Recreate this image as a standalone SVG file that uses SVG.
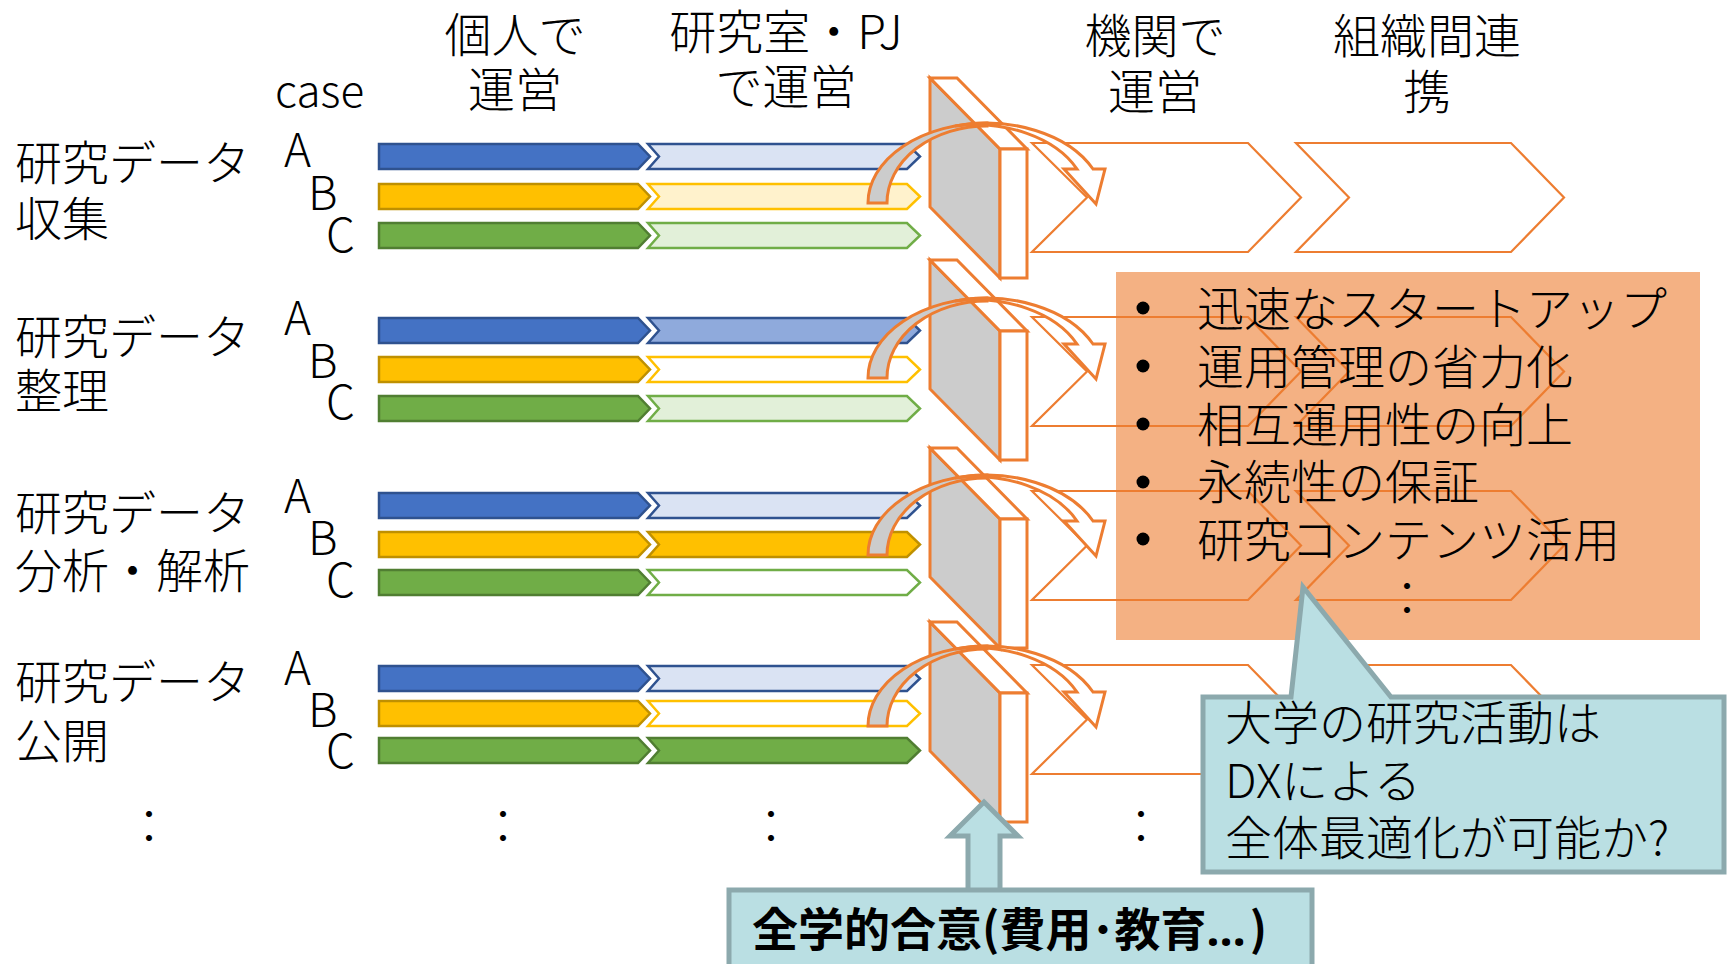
<svg xmlns="http://www.w3.org/2000/svg" xmlns:xlink="http://www.w3.org/1999/xlink" width="1727" height="964" viewBox="0 0 1727 964">
<style>
text{font-family:"Noto Sans CJK JP","Noto Sans",sans-serif;font-size:47px;fill:#000;font-weight:300}
.mid{text-anchor:middle}
.abc{font-size:46px}
.case{font-size:44px}
.bold{font-weight:700;font-size:46px}
.ell{font-family:"Noto Sans",sans-serif}
.bar{stroke-width:2.5;stroke-linejoin:miter}
.bD{fill:#4472C4;stroke:#2F528F}
.bL{fill:#DAE3F3;stroke:#2F528F}
.bM{fill:#8FAADC;stroke:#2F528F}
.yD{fill:#FFC000;stroke:#BF9000}
.yL{fill:#FFF2CC;stroke:#FFC000}
.yW{fill:#FFFFFF;stroke:#FFC000}
.gD{fill:#70AD47;stroke:#507E32}
.gL{fill:#E2F0D9;stroke:#70AD47}
.gW{fill:#FFFFFF;stroke:#70AD47}
.or{stroke:#ED7D31;stroke-width:3;stroke-linejoin:miter}
.grey{fill:#CCCCCC}
.white{fill:#FFFFFF}
.chev{fill:none;stroke:#ED7D31;stroke-width:2.2}
.call{fill:#BADFE3;stroke:#8CA9AD;stroke-width:5;stroke-linejoin:miter}
</style>
<defs>
<path id="c1" d="M0,0 H259 L271,12.5 L259,25 H0 Z"/>
<path id="c2" d="M0,0 H259 L272,12.5 L259,25 H0 L11,12.5 Z"/>
<g id="panel">
<polygon class="or grey" points="930,0 1000,71 1000,200 930,129"/>
<polygon class="or white" points="930,0 957,0 1027,71 1000,71"/>
<rect class="or white" x="1000" y="71" width="27" height="129"/>
</g>
<g id="arrow">
<path class="or grey" d="M868,0 A119,80 0 0 1 987,-80 L987,-77 A100,77 0 0 0 887,0 Z"/>
<path class="or white" d="M955,-77 A118,80 0 0 1 1093,-34 L1105,-34 L1096,1 L1064,-34 L1077,-34 A112,76 0 0 0 955,-77 Z"/>
</g>
<g id="bigchev">
<path class="chev" d="M1032,0 H1248 L1301,54.5 L1248,109 H1032 L1087,54.5 Z"/>
<path class="chev" d="M1296,0 H1511 L1564,54.5 L1511,109 H1296 L1349,54.5 Z"/>
</g>
</defs>

<g id="headers">
<text class="mid" x="515" y="52">個人で</text>
<text class="mid" x="515" y="107">運営</text>
<text class="mid" x="786" y="49">研究室・PJ</text>
<text class="mid" x="786" y="104">で運営</text>
<text class="mid" x="1155" y="53">機関で</text>
<text class="mid" x="1155" y="109">運営</text>
<text class="mid" x="1427" y="53">組織間連</text>
<text class="mid" x="1427" y="109">携</text>
<text class="case" x="275" y="107">case</text>
</g>

<g id="row-labels">
<text x="15" y="180">研究データ</text>
<text x="15" y="236">収集</text>
<text x="15" y="354">研究データ</text>
<text x="15" y="408">整理</text>
<text x="15" y="530">研究データ</text>
<text x="15" y="588">分析・解析</text>
<text x="15" y="699">研究データ</text>
<text x="15" y="758">公開</text>
</g>

<g id="case-letters">
<text class="abc" x="284" y="167">A</text><text class="abc" x="308" y="210">B</text><text class="abc" x="326" y="252">C</text>
<text class="abc" x="284" y="335">A</text><text class="abc" x="308" y="378">B</text><text class="abc" x="326" y="419">C</text>
<text class="abc" x="284" y="513">A</text><text class="abc" x="308" y="555">B</text><text class="abc" x="326" y="597">C</text>
<text class="abc" x="284" y="685">A</text><text class="abc" x="308" y="727">B</text><text class="abc" x="326" y="768">C</text>
</g>

<g id="orange-box">
<rect x="1116" y="272" width="584" height="368" fill="#F4B183"/>
</g>

<g id="big-chevrons">
<use xlink:href="#bigchev" href="#bigchev" transform="translate(0,143)"/>
<use xlink:href="#bigchev" href="#bigchev" transform="translate(0,317)"/>
<use xlink:href="#bigchev" href="#bigchev" transform="translate(0,491)"/>
<use xlink:href="#bigchev" href="#bigchev" transform="translate(0,665)"/>
</g>

<g id="row1">
<use class="bar bD" href="#c1" transform="translate(379,144)"/>
<use class="bar yD" href="#c1" transform="translate(379,184)"/>
<use class="bar gD" href="#c1" transform="translate(379,223)"/>
<use class="bar bL" href="#c2" transform="translate(648,144)"/>
<use class="bar yL" href="#c2" transform="translate(648,184)"/>
<use class="bar gL" href="#c2" transform="translate(648,223)"/>
<use href="#panel" transform="translate(0,78)"/>
<use href="#arrow" transform="translate(0,203)"/>
</g>

<g id="row2">
<use class="bar bD" href="#c1" transform="translate(379,318)"/>
<use class="bar yD" href="#c1" transform="translate(379,357)"/>
<use class="bar gD" href="#c1" transform="translate(379,396)"/>
<use class="bar bM" href="#c2" transform="translate(648,318)"/>
<use class="bar yW" href="#c2" transform="translate(648,357)"/>
<use class="bar gL" href="#c2" transform="translate(648,396)"/>
<use href="#panel" transform="translate(0,260)"/>
<use href="#arrow" transform="translate(0,378)"/>
</g>

<g id="row3">
<use class="bar bD" href="#c1" transform="translate(379,493)"/>
<use class="bar yD" href="#c1" transform="translate(379,532)"/>
<use class="bar gD" href="#c1" transform="translate(379,570)"/>
<use class="bar bL" href="#c2" transform="translate(648,493)"/>
<use class="bar yD" href="#c2" transform="translate(648,532)"/>
<use class="bar gW" href="#c2" transform="translate(648,570)"/>
<use href="#panel" transform="translate(0,448)"/>
<use href="#arrow" transform="translate(0,555)"/>
</g>

<g id="row4">
<use class="bar bD" href="#c1" transform="translate(379,666)"/>
<use class="bar yD" href="#c1" transform="translate(379,701)"/>
<use class="bar gD" href="#c1" transform="translate(379,738)"/>
<use class="bar bL" href="#c2" transform="translate(648,666)"/>
<use class="bar yW" href="#c2" transform="translate(648,701)"/>
<use class="bar gD" href="#c2" transform="translate(648,738)"/>
<use href="#panel" transform="translate(0,622)"/>
<use href="#arrow" transform="translate(0,726)"/>
</g>

<g id="continuation-dots">
<text class="mid" x="149" y="843">：</text>
<text class="mid" x="503" y="843">：</text>
<text class="mid" x="771" y="843">：</text>
<text class="mid" x="1141" y="843">：</text>
</g>

<g id="benefits">
<circle cx="1143" cy="308" r="6.5"/>
<circle cx="1143" cy="366" r="6.5"/>
<circle cx="1143" cy="424" r="6.5"/>
<circle cx="1143" cy="482" r="6.5"/>
<circle cx="1143" cy="539" r="6.5"/>
<text x="1197" y="326">迅速なスタートアップ</text>
<text x="1197" y="384">運用管理の省力化</text>
<text x="1197" y="442">相互運用性の向上</text>
<text x="1197" y="499">永続性の保証</text>
<text x="1197" y="557">研究コンテンツ活用</text>
<text class="mid" x="1407" y="615">：</text>
</g>

<g id="callout">
<path class="call" d="M1203,697 H1291 L1303,587 L1391,697 H1724 V872 H1203 Z"/>
<text x="1225" y="740">大学の研究活動は</text>
<text x="1225" y="798">DXによる</text>
<text x="1225" y="855">全体最適化が可能か?</text>
</g>

<g id="consensus">
<path class="call" d="M984,802 L1018,836 L1000,836 L1000,893 L968,893 L968,836 L950,836 Z"/>
<rect class="call" x="729" y="890" width="583" height="90"/>
<text class="bold" x="752" y="946">全学的合意(費用･教育<tspan class="ell" letter-spacing="4">…</tspan>)</text>
</g>
</svg>
